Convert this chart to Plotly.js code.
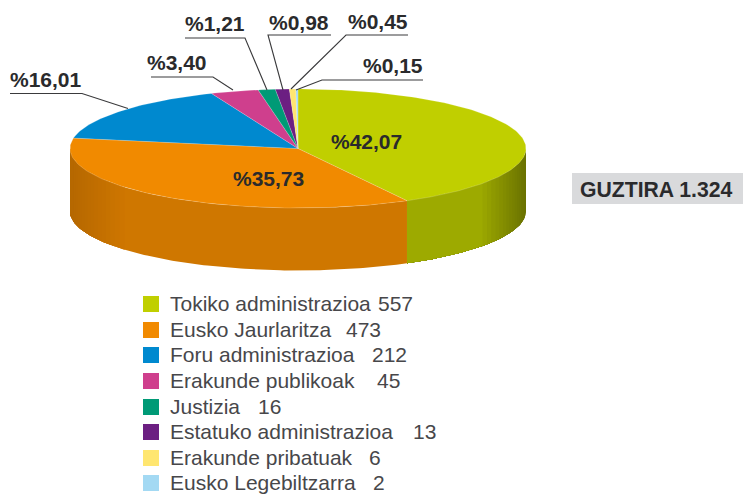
<!DOCTYPE html>
<html><head><meta charset="utf-8">
<script src="https://cdn.plot.ly/plotly-3.0.1.min.js"></script>
<style>html,body{margin:0;padding:0;background:#fff}#c{width:743px;height:494px}</style></head>
<body><div id="c"></div>
<script>
const categories = ["Tokiko administrazioa","Eusko Jaurlaritza","Foru administrazioa","Erakunde publikoak","Justizia","Estatuko administrazioa","Erakunde pribatuak","Eusko Legebiltzarra"];
const counts = [557,473,212,45,16,13,6,2];
const percentLabels = ["%42,07","%35,73","%16,01","%3,40","%1,21","%0,98","%0,45","%0,15"];
const totalLabel = "GUZTIRA 1.324";
const colors = ["#c0cf00","#f18a00","#0089cf","#cf3f8d","#009a76","#6c1f82","#ffe670","#a3d9f3"];

// geometry (pixel-mapped axes)
const cx=298, cy=148.5, rx=228, ry=59.5, depth=62.5;
const total = counts.reduce((a,b)=>a+b,0);
const TXT="#2a2a2c", FONT="Liberation Sans, Arial, sans-serif";
const px=t=>cx+rx*Math.sin(t), py=t=>cy-ry*Math.cos(t);
const rad=d=>d*Math.PI/180;

function rgb(h){return [1,3,5].map(i=>parseInt(h.substr(i,2),16));}
function shade(h,f){return "rgb("+rgb(h).map(v=>Math.round(v*f)).join(",")+")";}
const sideBase=[0.82,0.86,0.82,0.82,0.82,0.82,0.82,0.82];
function sideFactor(i,x){
  const b=sideBase[i];
  if(x>=480) return b-(x-480)/46*0.27;
  if(x<=127) return b-(127-x)/57*0.11;
  return b;
}
const traces=[];
function poly(xs,ys,color,lw,lc){
  traces.push({type:"scatter",mode:"lines",x:xs,y:ys,fill:"toself",fillcolor:color,
    line:{color:lc||color,width:lw||0},hoverinfo:"skip",showlegend:false});
}
let cum=0; const wedges=counts.map(v=>{const a=cum/total*360; cum+=v; return [a,cum/total*360];});

// side wall: visible on the front half of the ellipse (90..270 deg).
// Each band runs to the end of its wedge and the next band paints over it, so no seams appear.
wedges.forEach((w,i)=>{
  const a0=Math.max(w[0],90), a1=Math.min(w[1],270);
  if(a1<=a0) return;
  const step=2;
  let last=null;
  for(let a=a0;a<a1;a+=step){
    const col=shade(colors[i],sideFactor(i,px(rad(Math.min(a+step/2,a1)))));
    if(col===last) continue;
    last=col;
    const xs=[],ys=[],xb=[],yb=[];
    for(let b=a;b<a1;b+=1){const t=rad(b);xs.push(px(t));ys.push(py(t));xb.unshift(px(t));yb.unshift(py(t)+depth);}
    const t=rad(a1);xs.push(px(t));ys.push(py(t));xb.unshift(px(t));yb.unshift(py(t)+depth);
    poly(xs.concat(xb,[xs[0]]),ys.concat(yb,[ys[0]]),col);
  }
});
// top face
wedges.forEach((w,i)=>{
  const xs=[cx],ys=[cy];
  const n=Math.max(2,Math.ceil((w[1]-w[0])/1));
  for(let k=0;k<=n;k++){const t=rad(w[0]+(w[1]-w[0])*k/n);xs.push(px(t));ys.push(py(t));}
  xs.push(cx);ys.push(cy);
  poly(xs,ys,colors[i],0.5,"rgba(255,255,255,0.35)");
});

// leader lines, one per outer label
const leaders=[
 {i:2,p:[[10,93.5],[82,93.5],[128,108.5]]},
 {i:3,p:[[151,77],[213,77],[233,90]]},
 {i:4,p:[[185,38],[245,38],[267,90]]},
 {i:5,p:[[331,35],[268,35],[283,90]]},
 {i:6,p:[[408,35],[346,35],[291,89]]},
 {i:7,p:[[423,80],[322,80],[296,90]]}
];
leaders.forEach(l=>traces.push({type:"scatter",mode:"lines",x:l.p.map(q=>q[0]),y:l.p.map(q=>q[1]),
  line:{color:"#3a3a3c",width:1.1},hoverinfo:"skip",showlegend:false}));

// legend swatches
const legendY=[304,330,355,381,407,432,458,483];
traces.push({type:"scatter",mode:"markers",x:legendY.map(()=>151),y:legendY,
  marker:{symbol:"square",size:16,color:colors,line:{width:0}},hoverinfo:"skip",showlegend:false});

const ann=[];
function t(x,y,text,size,bold,anchor,color){
  ann.push({x,y,xref:"x",yref:"y",text:bold?"<b>"+text+"</b>":text,showarrow:false,xanchor:anchor||"left",yanchor:"middle",
    font:{family:FONT,size,color:color||TXT},borderpad:0});
}
const labelPos=[[330,141],[232,178],[9,79],[146,62],[184,23],[268,22],[347,21],[362,65]];
percentLabels.forEach((s,i)=>t(labelPos[i][0],labelPos[i][1],s,21,true));
t(579,189,totalLabel,21.2,true);
const countX=[378,346,372,377,258,413,369,373];
categories.forEach((c,i)=>{
  t(169,legendY[i]-1,c,21,false,"left","#47474a");
  t(countX[i]-1,legendY[i]-1,String(counts[i]),21,false,"left","#47474a");
});

Plotly.newPlot("c",traces,{
  width:743,height:494,margin:{l:0,r:0,t:0,b:0},paper_bgcolor:"#fff",plot_bgcolor:"#fff",showlegend:false,
  xaxis:{range:[0,743],visible:false,fixedrange:true},
  yaxis:{range:[494,0],visible:false,fixedrange:true},
  shapes:[{type:"rect",xref:"x",yref:"y",x0:572,x1:743,y0:173,y1:204,fillcolor:"#d9dadc",line:{width:0},layer:"below"}],
  annotations:ann
},{displayModeBar:false,staticPlot:true});
</script></body></html>
